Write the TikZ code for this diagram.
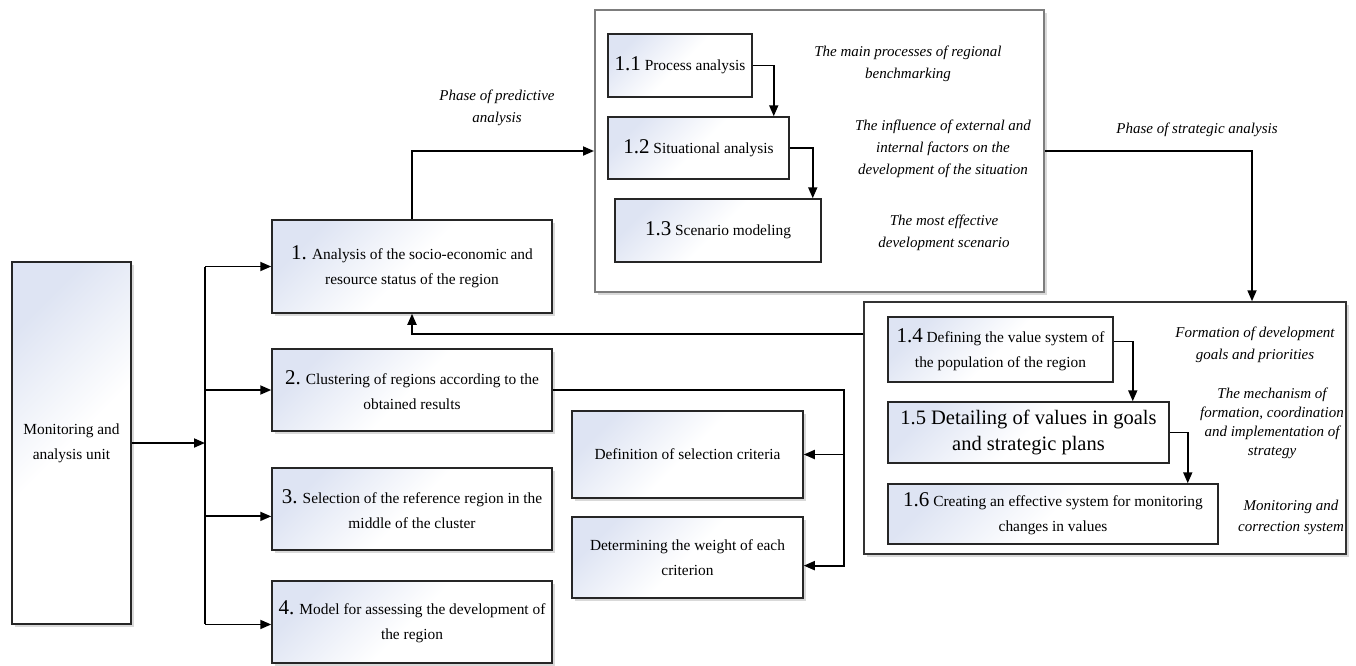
\documentclass[tikz,border=0pt]{standalone}
\usepackage{fontspec}
\setmainfont{Liberation Serif}
\usetikzlibrary{arrows.meta,shadows}
\definecolor{boxtint}{RGB}{222,228,243}
\definecolor{framegray}{RGB}{125,125,125}
\newcommand{\bnum}[1]{{\fontsize{21}{25}\selectfont #1}}

\begin{document}
\begin{tikzpicture}[x=1pt,y=-1pt,
    unit/.style={draw=black!85,line width=1.5pt,top color=boxtint,bottom color=white,middle color=white,shading angle=45,inner sep=0pt,align=center,font=\fontsize{15.4}{25}\selectfont},
    shadowed/.style={drop shadow={opacity=0.3,shadow xshift=3pt,shadow yshift=-3pt}},
    frame/.style={fill=white,inner sep=0pt,shadowed},
    note/.style={align=center,font=\fontsize{15}{22}\selectfont\itshape},
    conn/.style={line width=1.8pt},
    arr/.style={conn,-{Triangle[length=11pt,width=9pt]}}]
    \useasboundingbox (0,0) rectangle (1356,665);
    \node[frame,draw=framegray,line width=2pt,minimum width=449pt,minimum height=282pt] (top) at (819.5,151) {};
    \node[frame,draw=black!80,line width=1.5pt,minimum width=482pt,minimum height=252pt] (low) at (1105,428) {};
    \node[unit,shadowed,minimum width=119pt,minimum height=362pt] (mon) at (71.5,443) {Monitoring and\\analysis unit};
    \node[unit,shadowed,minimum width=280pt,minimum height=93pt] (b1) at (412,266.5) {\bnum{1.} Analysis of the socio-economic and\\resource status of the region};
    \node[unit,shadowed,minimum width=280pt,minimum height=82pt] (b2) at (412,390) {\bnum{2.} Clustering of regions according to the\\obtained results};
    \node[unit,shadowed,minimum width=280pt,minimum height=82pt] (b3) at (412,509) {\bnum{3.} Selection of the reference region in the\\middle of the cluster};
    \node[unit,shadowed,minimum width=280pt,minimum height=82pt] (b4) at (412,622) {\bnum{4.} Model for assessing the development of\\the region};
    \node[unit,shadowed,minimum width=231pt,minimum height=87pt] (selcrit) at (687.5,454.5) {Definition of selection criteria};
    \node[unit,shadowed,minimum width=231pt,minimum height=81pt] (weight) at (687.5,557.5) {Determining the weight of each\\criterion};
    \node[unit,minimum width=144pt,minimum height=63pt] (n11) at (680,65.5) {\bnum{1.1} Process analysis};
    \node[unit,minimum width=181pt,minimum height=62pt] (n12) at (698.5,148) {\bnum{1.2} Situational analysis};
    \node[unit,minimum width=206pt,minimum height=63pt] (n13) at (718,230.5) {\bnum{1.3} Scenario modeling};
    \node[unit,minimum width=225pt,minimum height=65pt] (n14) at (1000.5,349.5) {\bnum{1.4} Defining the value system of\\the population of the region};
    \node[unit,minimum width=281pt,minimum height=61pt,font=\fontsize{20.5}{26}\selectfont] (n15) at (1028.5,432.5) {1.5 Detailing of values in goals\\and strategic plans};
    \node[unit,minimum width=330pt,minimum height=60pt] (n16) at (1053,514) {\bnum{1.6} Creating an effective system for monitoring\\changes in values};
    \node[note] (predict) at (497,108) {Phase of predictive\\analysis};
    \node[note] (strat) at (1197,130) {Phase of strategic analysis};
    \node[note] (t1) at (908,64) {The main processes of regional\\benchmarking};
    \node[note] (t2) at (943,149) {The influence of external and\\internal factors on the\\development of the situation};
    \node[note] (t3) at (944,233) {The most effective\\development scenario};
    \node[note] (t4) at (1255,345) {Formation of development\\goals and priorities};
    \node[note,font=\fontsize{15}{19}\selectfont\itshape] (t5) at (1272,423) {The mechanism of\\formation, coordination\\and implementation of\\strategy};
    \node[note,font=\fontsize{15}{21}\selectfont\itshape] (t6) at (1291,517) {Monitoring and\\correction system};
    \coordinate (bus) at (205,443);
    \draw[arr] (mon.east) -- (bus);
    \draw[conn] (bus |- b1.west) -- (bus |- b4.181);
    \foreach \X/\A in {b1/180,b2/180,b3/183,b4/181}
    {\draw[arr] (bus |- \X.\A) -- (\X.\A);}
    \draw[arr] (b1.north) |- (top.west);
    \draw[arr] (n11.east) -| ([xshift=-16pt]n12.north east);
    \draw[arr] (n12.east) -| ([xshift=-9pt]n13.north east);
    \draw[arr] (top.east) -| ([xshift=147pt]low.north);
    \draw[arr] ([yshift=-33pt]low.north west) -| (b1.south);
    \draw[arr] (n14.4) -| ([xshift=-37pt]n15.north east);
    \draw[arr] (n15.east) -| ([xshift=-31pt]n16.north east);
    \draw[arr] (b2.east) -| ([xshift=40pt]weight.-4) -- (weight.-4);
    \draw[arr] ([xshift=40pt]selcrit.east) -- (selcrit.east);
\end{tikzpicture}
\end{document}
